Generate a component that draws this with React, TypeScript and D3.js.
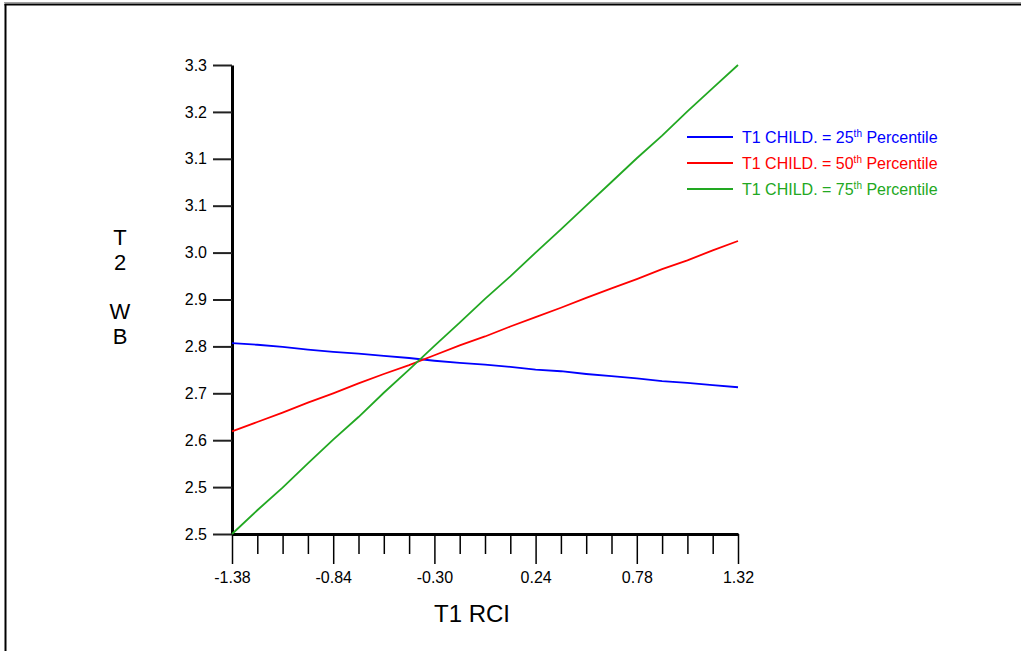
import React, { useEffect, useRef } from 'react';
import * as d3 from 'd3';

const rciValues = [-1.38, -1.245, -1.11, -0.975, -0.84, -0.705, -0.57, -0.435, -0.30, -0.165, -0.03,
  0.105, 0.24, 0.375, 0.51, 0.645, 0.78, 0.915, 1.05, 1.185, 1.32];

// predicted T2 WB for each T1 CHILD. percentile
const pct25 = [2.806, 2.803, 2.799, 2.794, 2.790, 2.787, 2.783, 2.779, 2.774, 2.770, 2.767,
  2.763, 2.758, 2.755, 2.750, 2.746, 2.742, 2.737, 2.734, 2.730, 2.726];
const pct50 = [2.646, 2.663, 2.680, 2.698, 2.715, 2.733, 2.750, 2.766, 2.784, 2.802, 2.818,
  2.836, 2.853, 2.870, 2.888, 2.905, 2.922, 2.940, 2.956, 2.974, 2.991];
const pct75 = [2.460, 2.503, 2.544, 2.588, 2.631, 2.672, 2.716, 2.758, 2.801, 2.843, 2.886,
  2.927, 2.970, 3.012, 3.055, 3.098, 3.141, 3.182, 3.226, 3.268, 3.310];

const seriesPercentiles = ['25', '50', '75'];
const seriesColors = ['#0000ff', '#ff0000', '#22a822'];

const xMajorTicks = [-1.38, -0.84, -0.30, 0.24, 0.78, 1.32];
const xTickLabels = ['-1.38', '-0.84', '-0.30', '0.24', '0.78', '1.32'];
const yTickLabels = ['2.5', '2.5', '2.6', '2.7', '2.8', '2.9', '3.0', '3.1', '3.1', '3.2', '3.3'];
const yTitleLetters = ['T', '2', '', 'W', 'B'];

const FONT = '"Liberation Sans", Arial, sans-serif';

const App = () => {
  const svgRef = useRef<SVGSVGElement>(null);

  useEffect(() => {
    if (!svgRef.current) return;
    const svg = d3.select(svgRef.current);
    svg.selectAll('*').remove();

    const width = 1021;
    const height = 651;
    svg.attr('width', width).attr('height', height);

    const x = d3.scaleLinear().domain([-1.38, 1.32]).range([232, 738]);
    const y = d3.scaleLinear().domain([2.46, 3.31]).range([534, 65]);

    // page frame (only top and left edges are visible)
    svg.append('line')
      .attr('x1', 4).attr('x2', width).attr('y1', 2.5).attr('y2', 2.5)
      .attr('stroke', '#a0a0a0').attr('stroke-width', 1);
    svg.append('line')
      .attr('x1', 4.5).attr('x2', width).attr('y1', 4.5).attr('y2', 4.5)
      .attr('stroke', '#000').attr('stroke-width', 2);
    svg.append('line')
      .attr('x1', 5.5).attr('x2', 5.5).attr('y1', 4).attr('y2', height)
      .attr('stroke', '#000').attr('stroke-width', 2);

    // y axis
    const yTicks = yTickLabels.map((_, i) => 2.46 + i * 0.085);
    const yAxis = svg.append('g')
      .attr('transform', 'translate(232,0)')
      .call(d3.axisLeft(y)
        .tickValues(yTicks)
        .tickFormat((_, i) => yTickLabels[i])
        .tickSize(19)
        .tickSizeOuter(0)
        .tickPadding(6));
    yAxis.select('.domain').attr('stroke', '#000').attr('stroke-width', 3);
    yAxis.selectAll('.tick line').attr('stroke', '#222').attr('stroke-width', 2);
    yAxis.selectAll('.tick text')
      .attr('font-family', FONT).attr('font-size', 16).attr('fill', '#000');

    // x axis: minor ticks (4 per labelled interval), then labelled ticks
    const minorTicks: number[] = [];
    for (let i = 0; i < xMajorTicks.length - 1; i++) {
      const step = (xMajorTicks[i + 1] - xMajorTicks[i]) / 4;
      for (let k = 1; k < 4; k++) minorTicks.push(xMajorTicks[i] + k * step);
    }
    const xMinor = svg.append('g')
      .attr('transform', 'translate(0,534)')
      .call(d3.axisBottom(x).tickValues(minorTicks).tickFormat(() => '').tickSize(20).tickSizeOuter(0));
    xMinor.select('.domain').remove();
    xMinor.selectAll('.tick line').attr('stroke', '#000').attr('stroke-width', 1.5);

    const xAxis = svg.append('g')
      .attr('transform', 'translate(0,534)')
      .call(d3.axisBottom(x)
        .tickValues(xMajorTicks)
        .tickFormat((_, i) => xTickLabels[i])
        .tickSize(30)
        .tickSizeOuter(0)
        .tickPadding(8));
    xAxis.select('.domain').attr('stroke', '#000').attr('stroke-width', 3);
    xAxis.selectAll('.tick line').attr('stroke', '#000').attr('stroke-width', 1.5);
    xAxis.selectAll('.tick text')
      .attr('font-family', FONT).attr('font-size', 16).attr('fill', '#000');

    // axis titles
    svg.append('text')
      .attr('x', 472).attr('y', 622)
      .attr('text-anchor', 'middle')
      .attr('font-family', FONT).attr('font-size', 24)
      .text('T1 RCI');

    svg.append('g')
      .selectAll('text')
      .data(yTitleLetters)
      .enter()
      .append('text')
      .attr('x', 120)
      .attr('y', (_, i) => 245 + i * 24.7)
      .attr('text-anchor', 'middle')
      .attr('font-family', FONT).attr('font-size', 22)
      .text(d => d);

    // curves
    const series = [pct25, pct50, pct75];
    const line = d3.line<number>()
      .x((_, i) => x(rciValues[i]))
      .y(d => y(d));

    svg.append('g')
      .selectAll('path')
      .data(series)
      .enter()
      .append('path')
      .attr('d', d => line(d))
      .attr('fill', 'none')
      .attr('stroke', (_, i) => seriesColors[i])
      .attr('stroke-width', 1.8);

    // legend
    const legend = svg.append('g')
      .selectAll('g')
      .data(seriesPercentiles)
      .enter()
      .append('g')
      .attr('transform', (_, i) => `translate(687,${137 + i * 26})`);

    legend.append('line')
      .attr('x1', 0).attr('x2', 46)
      .attr('stroke', (_, i) => seriesColors[i])
      .attr('stroke-width', 2);

    const label = legend.append('text')
      .attr('x', 55)
      .attr('y', 6)
      .attr('font-family', FONT)
      .attr('font-size', 16)
      .attr('fill', (_, i) => seriesColors[i])
      .style('white-space', 'pre');
    label.append('tspan').text(d => `T1 CHILD. = ${d}`);
    label.append('tspan').attr('font-size', 10).attr('dy', -6).text('th');
    label.append('tspan').attr('dy', 6).text(' Percentile');
  }, []);

  return (
    <div style={{ position: 'absolute', left: 0, top: 0, background: '#fff' }}>
      <svg ref={svgRef} style={{ display: 'block' }}></svg>
    </div>
  );
};

export default App;
